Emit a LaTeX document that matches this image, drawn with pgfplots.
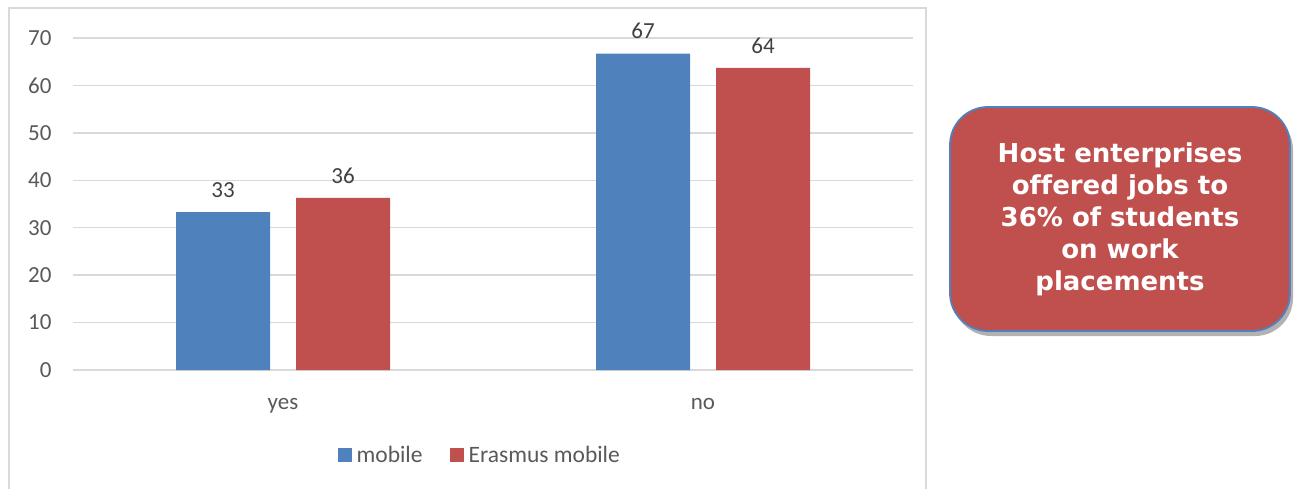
\documentclass[border=0pt]{standalone}
\usepackage{fontspec}
\setmainfont{Carlito}
\newfontfamily\boxfont{DejaVu Sans}[Ligatures=NoCommon]
\usepackage{pgfplots}
\pgfplotsset{compat=1.18}
\usetikzlibrary{shadows}
\definecolor{cblue}{HTML}{4F81BD}
\definecolor{cred}{HTML}{C0504D}
\definecolor{tgray}{HTML}{595959}
\definecolor{lgray}{HTML}{D9D9D9}
\definecolor{dgray}{HTML}{404040}
\begin{document}
\begin{tikzpicture}
\useasboundingbox (0,0) rectangle (1298pt,488pt);
\draw[lgray, line width=1.3pt] (9pt,-5pt) -- (9pt,480pt) -- (926pt,480pt) -- (926pt,-5pt);
\begin{axis}[
  at={(73pt,118pt)}, anchor=south west,
  scale only axis, width=840pt, height=332pt,
  xmin=-0.5, xmax=1.5, ymin=0, ymax=70,
  ytick={0,10,...,70},
  xtick={0,1}, xticklabels={yes,no},
  ymajorgrids, grid style={lgray, line width=1.3pt},
  axis line style={draw=none},
  major tick style={draw=none},
  /pgf/number format/assume math mode=true,
  tick label style={font=\fontsize{23}{28}\selectfont, text=tgray},
  yticklabel style={xshift=-18pt},
  xticklabel style={yshift=-21pt},
  ybar=26pt, bar width=94pt,
  point meta=explicit symbolic,
  nodes near coords,
  every node near coord/.append style={font=\fontsize{23}{28}\selectfont, text=dgray, yshift=11pt},
  legend columns=2,
  legend style={at={(0.486,-0.256)}, anchor=center, draw=none, fill=none,
    font=\fontsize{23.5}{28}\selectfont, text=tgray,
    /tikz/every even column/.append style={column sep=22pt},
    nodes={inner sep=5pt}},
  legend image code/.code={\fill[#1] (0pt,-7pt) rectangle (14pt,7pt);},
]
\addplot[fill=cblue, draw=none] coordinates {(0,33.3) [33] (1,66.7) [67]};
\addplot[fill=cred, draw=none] coordinates {(0,36.3) [36] (1,63.7) [64]};
\legend{mobile, Erasmus mobile}
\end{axis}
\node[rounded corners=38pt, fill=cred, draw=cblue, line width=1.8pt,
  minimum width=340pt, minimum height=224pt,
  drop shadow={shadow xshift=3pt, shadow yshift=-5pt, opacity=0.3, fill=black},
  text=white, align=center,
  font=\boxfont\bfseries\fontsize{26}{32}\selectfont] at (1120pt,269pt)
  {Host enterprises\\offered jobs to\\36\% of students\\on work\\placements};
\end{tikzpicture}
\end{document}
